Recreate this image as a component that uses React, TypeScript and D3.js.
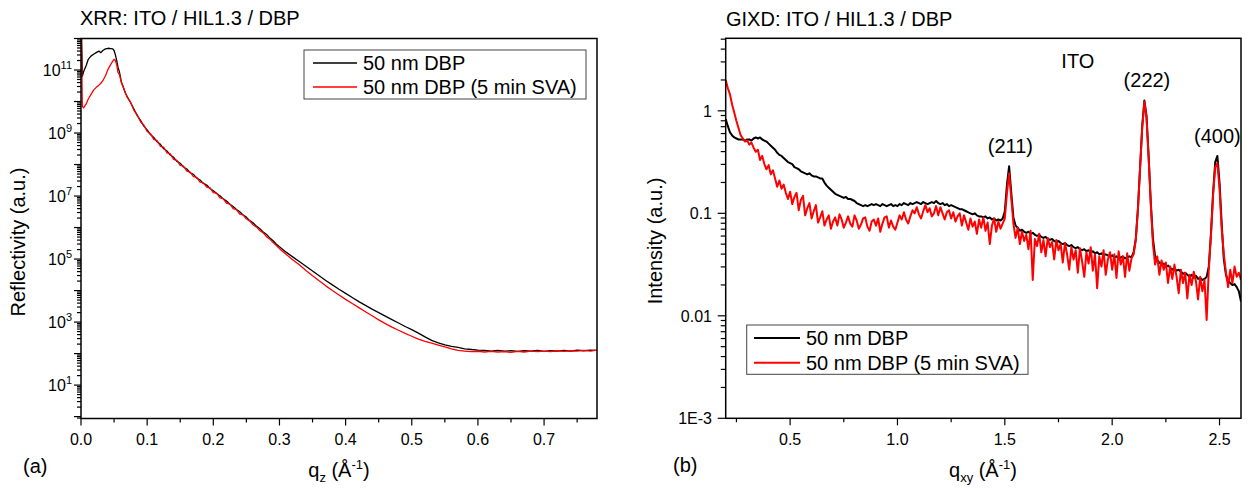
import * as d3 from "d3";
import React from "react";

// ---- XRR (panel a): q_z in 1/Å and log10 of reflectivity ----
const xrrQ = [
  0, 0.002, 0.004, 0.008, 0.011, 0.015, 0.019, 0.023, 0.027, 0.03, 0.033, 0.037, 0.041, 0.045, 0.048, 0.05,
  0.052, 0.054, 0.056, 0.058, 0.061, 0.064, 0.067,
  0.07, 0.075, 0.08, 0.085, 0.09, 0.095, 0.1, 0.105, 0.11, 0.115, 0.12, 0.125, 0.13, 0.135, 0.14, 0.145,
  0.15, 0.155, 0.16, 0.165, 0.17, 0.175, 0.18, 0.185, 0.19, 0.195, 0.2, 0.205, 0.21, 0.215, 0.22, 0.225,
  0.23, 0.235, 0.24, 0.245, 0.25, 0.255, 0.26, 0.265, 0.27, 0.275, 0.28, 0.285, 0.29, 0.295, 0.3,
  0.31, 0.32, 0.33, 0.34, 0.35, 0.36, 0.37, 0.38, 0.39, 0.4, 0.41, 0.42, 0.43, 0.44, 0.45, 0.46, 0.47,
  0.48, 0.49, 0.5, 0.51, 0.52, 0.53, 0.54, 0.55, 0.56, 0.57, 0.58, 0.59, 0.6, 0.61, 0.62, 0.63, 0.64,
  0.65, 0.66, 0.67, 0.68, 0.69, 0.7, 0.71, 0.72, 0.73, 0.74, 0.75, 0.76, 0.77, 0.78,
];
const xrrPristine = [
  13, 10.8, 10.95, 11.15, 11.34, 11.44, 11.5, 11.55, 11.6, 11.55, 11.62, 11.67, 11.69, 11.68, 11.67, 11.62,
  11.48, 11.3, 11.08, 10.95, 10.62, 10.45, 10.27,
  10.15, 9.96, 9.76, 9.55, 9.4, 9.22, 9.1, 8.95, 8.86, 8.72, 8.64, 8.5, 8.43, 8.3, 8.23, 8.1,
  8.04, 7.92, 7.86, 7.74, 7.69, 7.57, 7.51, 7.4, 7.35, 7.24, 7.17, 7.08, 7.01, 6.91, 6.84, 6.74,
  6.67, 6.57, 6.5, 6.4, 6.33, 6.22, 6.15, 6.05, 5.97, 5.87, 5.79, 5.68, 5.59, 5.48, 5.39,
  5.22, 5.07, 4.92, 4.77, 4.62, 4.47, 4.32, 4.18, 4.04, 3.91, 3.78, 3.65, 3.53, 3.41, 3.3, 3.19, 3.08,
  2.97, 2.86, 2.76, 2.65, 2.53, 2.42, 2.34, 2.28, 2.23, 2.2, 2.15, 2.13, 2.11, 2.1, 2.08, 2.1, 2.08,
  2.09, 2.07, 2.09, 2.08, 2.1, 2.07, 2.09, 2.08, 2.1, 2.08, 2.11, 2.09, 2.11, 2.1,
];
const xrrSva = [
  13, 9.85, 9.8, 9.93, 10.08, 10.22, 10.36, 10.45, 10.52, 10.58, 10.66, 10.82, 11.03, 11.18, 11.28, 11.34,
  11.3, 11.16, 10.92, 10.86, 10.6, 10.45, 10.28,
  10.13, 9.98, 9.72, 9.58, 9.36, 9.25, 9.05, 8.98, 8.8, 8.76, 8.58, 8.55, 8.37, 8.34, 8.16, 8.13,
  7.97, 7.95, 7.79, 7.76, 7.62, 7.59, 7.44, 7.42, 7.28, 7.26, 7.11, 7.09, 6.94, 6.92, 6.77, 6.75,
  6.6, 6.57, 6.43, 6.4, 6.27, 6.21, 6.09, 6.02, 5.91, 5.84, 5.72, 5.64, 5.53, 5.44, 5.33,
  5.15, 4.98, 4.82, 4.64, 4.47, 4.31, 4.15, 4.0, 3.86, 3.72, 3.59, 3.46, 3.33, 3.2, 3.07, 2.95, 2.84,
  2.74, 2.64, 2.55, 2.46, 2.39, 2.33, 2.27, 2.21, 2.15, 2.1, 2.08, 2.06, 2.07, 2.05, 2.07, 2.05, 2.06,
  2.04, 2.07, 2.05, 2.08, 2.06, 2.08, 2.06, 2.09, 2.07, 2.09, 2.08, 2.1, 2.08, 2.11,
];

// ---- GIXD (panel b): q_xy from 0.20 to 2.60 in 0.01 steps, log10 of intensity ----
const gixdStart = 0.2;
const gixdStep = 0.01;
const gixdPristine = [
  -0.08, -0.15, -0.21, -0.24, -0.26, -0.27, -0.28, -0.28, -0.28, -0.29,
  -0.28, -0.28, -0.29, -0.27, -0.26, -0.27, -0.26, -0.28, -0.29, -0.3,
  -0.32, -0.34, -0.36, -0.38, -0.41, -0.43, -0.44, -0.46, -0.48, -0.5,
  -0.51, -0.52, -0.55, -0.56, -0.57, -0.59, -0.6, -0.61, -0.62, -0.61,
  -0.63, -0.64, -0.64, -0.65, -0.66, -0.66, -0.7, -0.73, -0.75, -0.77,
  -0.79, -0.81, -0.82, -0.83, -0.84, -0.85, -0.84, -0.86, -0.86, -0.87,
  -0.88, -0.9, -0.91, -0.92, -0.93, -0.92, -0.93, -0.92, -0.91, -0.92,
  -0.91, -0.92, -0.93, -0.91, -0.92, -0.93, -0.92, -0.91, -0.93, -0.92,
  -0.93, -0.91, -0.92, -0.9, -0.91, -0.92, -0.9, -0.91, -0.9, -0.89,
  -0.9, -0.91, -0.89, -0.9, -0.91, -0.9, -0.89, -0.9, -0.88, -0.9,
  -0.91, -0.9, -0.92, -0.91, -0.93, -0.92, -0.93, -0.94, -0.95, -0.96,
  -0.96, -0.97, -0.98, -0.99, -1.0, -1.01, -1.0, -1.02, -1.03, -1.03,
  -1.04, -1.03, -1.05, -1.04, -1.06, -1.05, -1.07, -1.06, -1.07, -1.05,
  -0.98, -0.72, -0.54, -0.8, -1.04, -1.12, -1.14, -1.17, -1.16, -1.18,
  -1.19, -1.18, -1.2, -1.19, -1.21, -1.22, -1.21, -1.23, -1.24, -1.23,
  -1.25, -1.26, -1.25, -1.27, -1.28, -1.27, -1.29, -1.3, -1.29, -1.31,
  -1.32, -1.31, -1.33, -1.34, -1.33, -1.35, -1.36, -1.35, -1.37, -1.36,
  -1.38, -1.37, -1.39, -1.38, -1.4, -1.39, -1.41, -1.4, -1.41, -1.42,
  -1.41, -1.43, -1.42, -1.44, -1.43, -1.42, -1.44, -1.43, -1.42, -1.43,
  -1.38, -1.25, -0.95, -0.55, -0.15, 0.1, -0.05, -0.45, -0.9, -1.25,
  -1.42, -1.46, -1.48, -1.5, -1.49, -1.52, -1.51, -1.53, -1.55, -1.54,
  -1.56, -1.55, -1.57, -1.59, -1.58, -1.6, -1.62, -1.6, -1.63, -1.61,
  -1.64, -1.63, -1.65, -1.64, -1.62, -1.52, -1.2, -0.8, -0.5, -0.44,
  -0.7, -1.1, -1.45, -1.6, -1.66, -1.68, -1.7, -1.69, -1.72, -1.76,
  -1.86,
];
const gixdSva = [
  0.3, 0.22, 0.16, 0.06, -0.02, -0.1, -0.17, -0.24, -0.27, -0.3,
  -0.29, -0.33, -0.31, -0.36, -0.4, -0.38, -0.48, -0.44, -0.52, -0.57,
  -0.53, -0.62, -0.58, -0.66, -0.74, -0.68, -0.76, -0.72, -0.8, -0.86,
  -0.79, -0.91, -0.84, -0.8, -0.97, -0.87, -0.83, -1.02, -0.95, -0.9,
  -1.05, -0.98, -0.92, -1.09, -1.04, -0.98, -1.12, -1.06, -1.02, -1.15,
  -1.08, -1.04, -1.12, -1.01, -1.06, -1.14, -1.09, -1.03, -1.1, -1.13,
  -1.02, -1.07, -1.15, -1.11, -1.05, -1.04, -1.13, -1.17, -1.08, -1.06,
  -1.12, -1.05, -1.18, -1.1, -1.04, -1.03, -1.14, -1.07, -1.13, -1.16,
  -1.09, -1.02, -1.06, -0.99, -1.06, -1.1, -1.03, -0.97, -1.0, -0.94,
  -1.01, -1.05, -0.98, -0.92, -0.99, -0.95, -1.03, -1.0, -0.93, -1.02,
  -0.94, -1.0, -1.06, -0.99, -0.97, -1.05, -0.99, -1.08, -1.03, -1.0,
  -1.12, -1.02, -1.09, -1.16, -1.05, -1.13, -1.08, -1.2, -1.06, -1.14,
  -1.04, -1.17, -1.09, -1.3, -1.12, -1.05, -1.18, -1.08, -1.15, -1.1,
  -1.05, -0.8, -0.61, -0.85, -1.1, -1.24, -1.14, -1.3, -1.18, -1.27,
  -1.21, -1.35, -1.17, -1.65, -1.25, -1.32, -1.2, -1.38, -1.26, -1.42,
  -1.24, -1.33, -1.28, -1.45, -1.26, -1.36, -1.3, -1.48, -1.29, -1.4,
  -1.55, -1.33, -1.45, -1.36, -1.58, -1.34, -1.47, -1.62, -1.38, -1.49,
  -1.33, -1.56, -1.4, -1.73, -1.42, -1.52, -1.36, -1.6, -1.45, -1.38,
  -1.55, -1.4, -1.63, -1.37, -1.5, -1.42, -1.62, -1.39, -1.56, -1.44,
  -1.4, -1.26, -0.96, -0.56, -0.16, 0.09, -0.07, -0.47, -0.92, -1.3,
  -1.5, -1.42, -1.6, -1.46, -1.55, -1.48, -1.68, -1.52, -1.64, -1.5,
  -1.62, -1.78, -1.55, -1.68, -1.58, -1.83, -1.6, -1.7, -1.57, -1.66,
  -1.84, -1.62, -1.76, -1.65, -2.04, -1.55, -1.22, -0.82, -0.55, -0.51,
  -0.76, -1.15, -1.4, -1.58, -1.72, -1.55, -1.68, -1.52, -1.62, -1.58,
  -1.65,
];

const seriesNames = ["50 nm DBP", "50 nm DBP (5 min SVA)"];
const seriesColors = ["#000000", "#ff0000"];

const peakLabels = [
  { text: "ITO", q: 1.84, i: 2.63 },
  { text: "(211)", q: 1.526, i: 0.39 },
  { text: "(222)", q: 2.162, i: 1.69 },
  { text: "(400)", q: 2.49, i: 0.49 },
];

const FONT = "'Liberation Sans', Arial, Helvetica, sans-serif";

type Pt = [number, number];

function logTicks(lo: number, hi: number, d0: number, d1: number) {
  const out: { v: number; major: boolean; exp: number }[] = [];
  for (let d = d0; d <= d1; d++) {
    for (let m = 1; m <= 9; m++) {
      const v = m * Math.pow(10, d);
      if (v >= lo * 0.999 && v <= hi * 1.001) out.push({ v, major: m === 1, exp: d });
    }
  }
  return out;
}

function XLabel({ x, y, sub }: { x: number; y: number; sub: string }) {
  return (
    <text x={x} y={y} textAnchor="middle" fontSize={20} fontFamily={FONT}>
      q<tspan fontSize={13} dy={5}>{sub}</tspan>
      <tspan dy={-5}> (Å</tspan>
      <tspan fontSize={13} dy={-8}>-1</tspan>
      <tspan dy={8}>)</tspan>
    </text>
  );
}

export default function App() {
  // panel a scales
  const xa = d3.scaleLinear().domain([0, 0.78]).range([81, 597]);
  const ya = d3.scaleLog().domain([Math.pow(10, -0.06), 1e12]).range([418.5, 38.5]);
  // panel b scales
  const xb = d3.scaleLinear().domain([0.2, 2.6]).range([725.7, 1241]);
  const yb = d3.scaleLog().domain([1e-3, 5.1]).range([418.3, 38.3]);

  const lineA = d3.line<Pt>().x((d) => xa(d[0])).y((d) => ya(d[1]));
  const lineB = d3.line<Pt>().x((d) => xb(d[0])).y((d) => yb(d[1]));

  const xrrSeries = [xrrPristine, xrrSva].map((s) =>
    s.map((v, i) => [xrrQ[i], Math.pow(10, v)] as Pt)
  );
  const gixdSeries = [gixdPristine, gixdSva].map((s) =>
    s.map((v, i) => [gixdStart + i * gixdStep, Math.pow(10, v)] as Pt)
  );

  const [ay0, ay1] = ya.range();
  const [ax0, ax1] = xa.range();
  const [by0, by1] = yb.range();
  const [bx0, bx1] = xb.range();

  const aYTicks = logTicks(ya.domain()[0], ya.domain()[1], -1, 12);
  const bYTicks = logTicks(yb.domain()[0], yb.domain()[1], -3, 0);
  const aXTicks = d3.range(0, 0.78, 0.05).map((v) => Math.round(v * 100) / 100);
  const bXTicks = d3.range(0.25, 2.6, 0.25).map((v) => Math.round(v * 100) / 100);

  const bLabel = (e: number) => (e === -3 ? "1E-3" : e === -2 ? "0.01" : e === -1 ? "0.1" : "1");

  return (
    <div style={{ position: "absolute", left: 0, top: 0 }}>
      <svg width={1252} height={489} style={{ display: "block", background: "#fff" }} fontFamily={FONT}>
        <defs>
          <clipPath id="clipA">
            <rect x={ax0} y={ay1} width={ax1 - ax0} height={ay0 - ay1} />
          </clipPath>
          <clipPath id="clipB">
            <rect x={bx0} y={by1} width={bx1 - bx0} height={by0 - by1} />
          </clipPath>
        </defs>

        {/* ================= panel (a) XRR ================= */}
        <text x={80} y={25} fontSize={20}>XRR: ITO / HIL1.3 / DBP</text>
        <g clipPath="url(#clipA)">
          {xrrSeries.map((s, k) => (
            <path key={k} d={lineA(s) || ""} fill="none" stroke={seriesColors[k]} strokeWidth={1.3} strokeLinejoin="round" />
          ))}
        </g>
        <rect x={ax0} y={ay1} width={ax1 - ax0} height={ay0 - ay1} fill="none" stroke="#000" strokeWidth={1.5} />
        {aYTicks.map((t, i) => (
          <line key={i} x1={ax0} x2={ax0 - (t.major ? 7 : 4)} y1={ya(t.v)} y2={ya(t.v)} stroke="#000" strokeWidth={1.2} />
        ))}
        {aYTicks
          .filter((t) => t.major && t.exp % 2 === 1 && t.exp > 0)
          .map((t, i) => (
            <text key={i} x={72} y={ya(t.v) + 6} textAnchor="end" fontSize={16}>
              10<tspan fontSize={11} dy={-7}>{t.exp}</tspan>
            </text>
          ))}
        {aXTicks.map((v, i) => {
          const major = Math.round(v * 100) % 10 === 0;
          return (
            <g key={i}>
              <line x1={xa(v)} x2={xa(v)} y1={ay0} y2={ay0 + (major ? 7 : 4)} stroke="#000" strokeWidth={1.2} />
              {major && (
                <text x={xa(v)} y={445} textAnchor="middle" fontSize={16}>{d3.format(".1f")(v)}</text>
              )}
            </g>
          );
        })}
        <text transform="translate(25,242) rotate(-90)" textAnchor="middle" fontSize={20}>Reflectivity (a.u.)</text>
        <XLabel x={339} y={477} sub="z" />
        <text x={23} y={473} fontSize={20}>(a)</text>
        {/* legend a */}
        <rect x={304} y={50} width={282} height={49} fill="#fff" stroke="#444" strokeWidth={1} />
        {seriesNames.map((n, k) => (
          <g key={k}>
            <line x1={313} x2={357} y1={63 + k * 24} y2={63 + k * 24} stroke={seriesColors[k]} strokeWidth={1.3} />
            <text x={363} y={70 + k * 24} fontSize={20}>{n}</text>
          </g>
        ))}

        {/* ================= panel (b) GIXD ================= */}
        <text x={726} y={26} fontSize={20}>GIXD: ITO / HIL1.3 / DBP</text>
        <g clipPath="url(#clipB)">
          {gixdSeries.map((s, k) => (
            <path key={k} d={lineB(s) || ""} fill="none" stroke={seriesColors[k]} strokeWidth={2} strokeLinejoin="round" />
          ))}
        </g>
        <rect x={bx0} y={by1} width={bx1 - bx0} height={by0 - by1} fill="none" stroke="#000" strokeWidth={1.5} />
        {bYTicks.map((t, i) => (
          <line key={i} x1={bx0} x2={bx0 - (t.major ? 8 : 5)} y1={yb(t.v)} y2={yb(t.v)} stroke="#000" strokeWidth={1.2} />
        ))}
        {bYTicks
          .filter((t) => t.major)
          .map((t, i) => (
            <text key={i} x={712} y={yb(t.v) + 6} textAnchor="end" fontSize={16}>{bLabel(t.exp)}</text>
          ))}
        {bXTicks.map((v, i) => {
          const major = Math.round(v * 100) % 50 === 0;
          return (
            <g key={i}>
              <line x1={xb(v)} x2={xb(v)} y1={by0} y2={by0 + (major ? 7 : 4)} stroke="#000" strokeWidth={1.2} />
              {major && (
                <text x={xb(v)} y={445} textAnchor="middle" fontSize={16}>{d3.format(".1f")(v)}</text>
              )}
            </g>
          );
        })}
        <text transform="translate(662,241) rotate(-90)" textAnchor="middle" fontSize={20}>Intensity (a.u.)</text>
        <XLabel x={983} y={477} sub="xy" />
        <text x={673} y={472} fontSize={20}>(b)</text>
        {peakLabels.map((p, i) => (
          <text key={i} x={xb(p.q)} y={yb(p.i)} textAnchor="middle" fontSize={20}>{p.text}</text>
        ))}
        {/* legend b */}
        <rect x={746.7} y={325} width={281.3} height={49.3} fill="#fff" stroke="#444" strokeWidth={1} />
        {seriesNames.map((n, k) => (
          <g key={k}>
            <line x1={754} x2={800} y1={338 + k * 24.7} y2={338 + k * 24.7} stroke={seriesColors[k]} strokeWidth={2} />
            <text x={806} y={345 + k * 24.7} fontSize={20}>{n}</text>
          </g>
        ))}
      </svg>
    </div>
  );
}
